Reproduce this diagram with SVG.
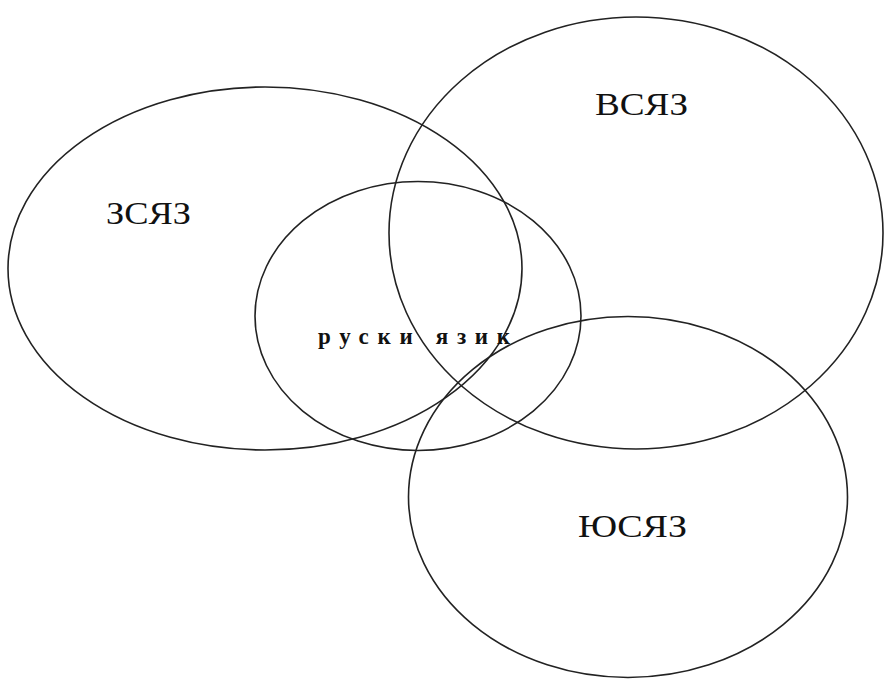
<svg xmlns="http://www.w3.org/2000/svg" width="884" height="680" viewBox="0 0 884 680">
<style>
.e{fill:none;stroke:#222;stroke-width:1.6}
.t{font-family:"Liberation Serif","DejaVu Serif",serif;fill:#111}
.lab{font-size:31px}
.c{font-size:23px;font-weight:bold}
</style>
<rect width="884" height="680" fill="#fff"/>
<g id="zsyaz"><ellipse class="e" cx="265" cy="268.5" rx="257" ry="181.5"/><text class="t lab" x="106" y="224" textLength="85" lengthAdjust="spacingAndGlyphs">ЗСЯЗ</text></g>
<g id="vsyaz"><ellipse class="e" cx="636" cy="233" rx="247" ry="216"/><text class="t lab" x="595" y="115" textLength="93" lengthAdjust="spacingAndGlyphs">ВСЯЗ</text></g>
<g id="ruski"><ellipse class="e" cx="418" cy="316" rx="163" ry="134.5"/><text class="t c" x="318" y="344" textLength="192" lengthAdjust="spacing">руски язик</text></g>
<g id="yusyaz"><ellipse class="e" cx="628" cy="497" rx="219.5" ry="180.5"/><text class="t lab" x="578" y="537" textLength="109" lengthAdjust="spacingAndGlyphs">ЮСЯЗ</text></g>
<g id="connectors"/>
</svg>
